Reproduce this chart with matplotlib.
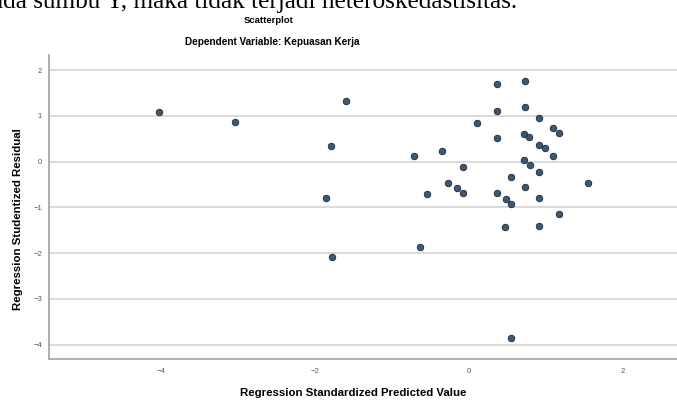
import matplotlib
matplotlib.use("Agg")
import matplotlib.pyplot as plt

# Regression Standardized Predicted Value
pred = [-4.02, -3.03, -1.59, -1.79, -0.71, -1.85, -0.54, -0.64, -1.78,
        0.73, 0.36, 0.36, 0.73, 0.91, 0.10, 1.09, 1.17, 0.36, 0.71, 0.78,
        0.91, 0.99, 1.09, -0.35, 0.71, 0.79, 0.91, -0.08, 0.54, -0.27,
        1.54, -0.15, -0.08, 0.73, 0.36, 0.48, 0.54, 0.91, 1.17, 0.47,
        0.91, 0.54]
# Regression Studentized Residual
resid = [1.09, 0.875, 1.33, 0.35, 0.125, -0.80, -0.71, -1.86, -2.08,
         1.77, 1.70, 1.11, 1.19, 0.96, 0.84, 0.73, 0.63, 0.51, 0.61, 0.53,
         0.37, 0.29, 0.125, 0.24, 0.04, -0.07, -0.22, -0.11, -0.33, -0.46,
         -0.46, -0.58, -0.69, -0.56, -0.68, -0.82, -0.93, -0.80, -1.15, -1.42,
         -1.40, -3.86]

x_ticks = [-4, -2, 0, 2]
y_ticks = [2, 1, 0, -1, -2, -3, -4]

fig = plt.figure(figsize=(6.77, 4.01), dpi=100)
ax = fig.add_axes([0.0724, 0.104, 0.9276, 0.759])

ax.scatter(pred, resid, s=22, c="#3b5878", edgecolors="#20262e",
           linewidths=0.6, zorder=3)

ax.set_xlim(-5.45, 2.70)
ax.set_ylim(-4.32, 2.33)
ax.set_xticks(x_ticks)
ax.set_yticks(y_ticks)
ax.tick_params(length=0, labelsize=5.5, labelcolor="#555555")
ax.tick_params(axis="x", pad=6)
ax.tick_params(axis="y", pad=5)
for lbl in ax.get_xticklabels() + ax.get_yticklabels():
    lbl.set_family("Liberation Sans")

ax.grid(axis="y", color="#dadada", linewidth=1.4)
ax.set_axisbelow(True)
for side in ["top", "right"]:
    ax.spines[side].set_visible(False)
for side in ["left", "bottom"]:
    ax.spines[side].set_color("#a8a8a8")
    ax.spines[side].set_linewidth(1.3)

fig.text(353 / 677, 1 - 393 / 401, "Regression Standardized Predicted Value",
         ha="center", va="center", fontsize=8.2, fontweight="bold",
         family="Liberation Sans")
fig.text(0.027, 1 - 219 / 401, "Regression Studentized Residual",
         rotation=90, ha="center", va="center", fontsize=8.2,
         fontweight="bold", family="Liberation Sans")

fig.text(269 / 677, 1 - 20.5 / 401, "Scatterplot", ha="center",
         va="center", fontsize=6.8, fontweight="bold", family="Liberation Sans")
fig.text(272 / 677, 1 - 42 / 401, "Dependent Variable: Kepuasan Kerja",
         ha="center", va="center", fontsize=7.2, fontweight="bold",
         family="Liberation Sans")

# cut-off line of body text above the chart
fig.text(-0.012, 1 - 8.3 / 401, "ada sumbu Y, maka tidak terjadi heteroskedastisitas.",
         ha="left", va="baseline", fontsize=18.2, family="Liberation Serif")

fig.savefig("out.png", dpi=100)
